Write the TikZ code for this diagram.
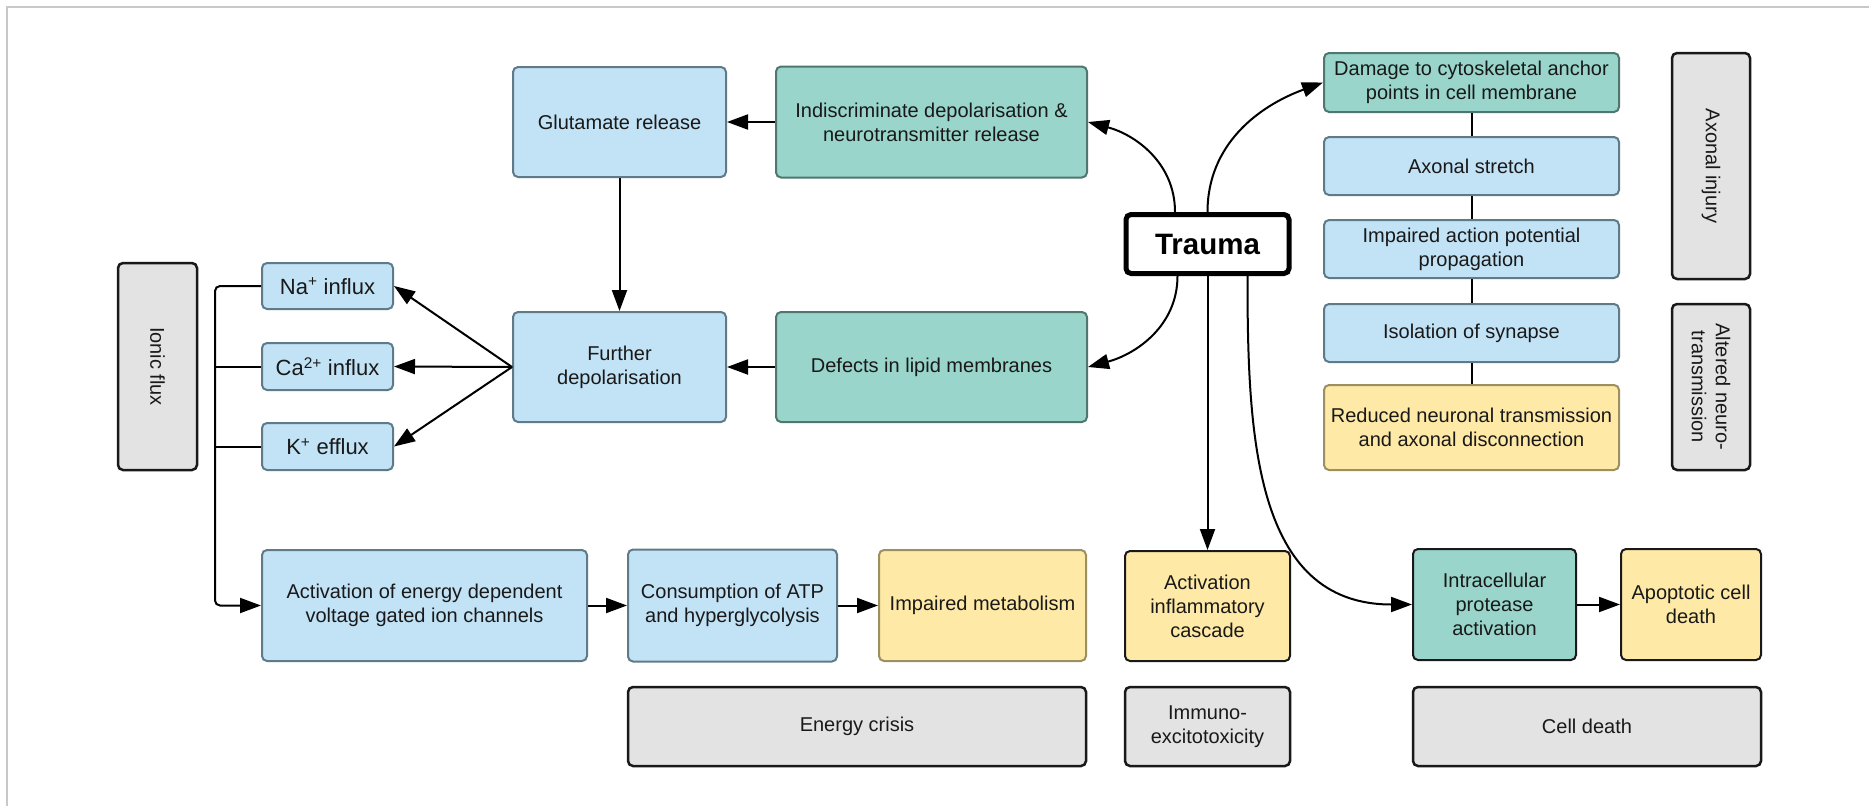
\documentclass[tikz,border=0pt]{standalone}
\usepackage{fontspec}
\setmainfont{Liberation Sans}
\usetikzlibrary{arrows.meta}
\definecolor{boxblue}{HTML}{C2E2F5}
\definecolor{lineblue}{HTML}{5F7A88}
\definecolor{boxteal}{HTML}{99D5CA}
\definecolor{lineteal}{HTML}{4F776F}
\definecolor{boxyellow}{HTML}{FEEAA6}
\definecolor{lineyellow}{HTML}{9C8F62}
\definecolor{boxgrey}{HTML}{E3E3E3}
\definecolor{framegrey}{HTML}{C8C8C8}
\def\boxtxt{\fontsize{20}{24}\selectfont}
\def\iontxt{\fontsize{22}{26}\selectfont}
\tikzset{
	box/.style={draw, rounded corners=5pt, line width=2pt, align=center, inner sep=0pt, text=black!90, font=\boxtxt},
	bluebox/.style={box, fill=boxblue, draw=lineblue},
	ionbox/.style={bluebox, font=\iontxt},
	tealbox/.style={box, fill=boxteal, draw=lineteal},
	yellowbox/.style={box, fill=boxyellow, draw=lineyellow},
	greybox/.style={box, fill=boxgrey, draw=black!90, line width=2.5pt},
	arr/.style={line width=2pt, -{Triangle[length=21pt,width=15pt]}},
	link/.style={line width=2pt}
}

\begin{document}
\begin{tikzpicture}[x=1pt,y=1pt]
		%%%%% START %%%%%
		\useasboundingbox (0,0) rectangle (1869,-806);
		\draw[framegrey, line width=1.5pt] (7,-806) -- (7,-7) -- (1869,-7);
		
		% ionic flux
		\node[greybox, rotate=-90, minimum width=207pt, minimum height=79pt] (ionic) at (157.5,-366.5) {Ionic flux};
		\node[ionbox, minimum width=131pt, minimum height=46pt] (na) at (327.5,-286) {Na\textsuperscript{+} influx};
		\node[ionbox, minimum width=131pt, minimum height=47pt] (ca) at (327.5,-366.5) {Ca\textsuperscript{2+} influx};
		\node[ionbox, minimum width=131pt, minimum height=47pt] (k) at (327.5,-446.5) {K\textsuperscript{+} efflux};
		
		\node[bluebox, minimum width=213pt, minimum height=110pt] (glut) at (619.5,-122) {Glutamate release};
		\node[bluebox, minimum width=213pt, minimum height=110pt] (further) at (619.5,-367) {Further\\depolarisation};
		\node[tealbox, minimum width=311pt, minimum height=111pt] (indisc) at (931.5,-122) {Indiscriminate depolarisation \&\\neurotransmitter release};
		\node[tealbox, minimum width=311pt, minimum height=110pt] (defects) at (931.5,-367) {Defects in lipid membranes};
		
		\node[draw, line width=5pt, rounded corners=5pt, fill=white, inner sep=0pt, minimum width=163pt, minimum height=59pt, font=\bfseries\fontsize{29.5}{34}\selectfont] (trauma) at (1207.5,-244) {Trauma};
		
		% axonal column
		\node[tealbox, minimum width=295pt, minimum height=59pt] (damage) at (1471.5,-82.5) {Damage to cytoskeletal anchor\\points in cell membrane};
		\node[bluebox, minimum width=295pt, minimum height=58pt] (stretch) at (1471.5,-166) {Axonal stretch};
		\node[bluebox, minimum width=295pt, minimum height=58pt] (actpot) at (1471.5,-249) {Impaired action potential\\propagation};
		\node[bluebox, minimum width=295pt, minimum height=58pt] (synapse) at (1471.5,-333) {Isolation of synapse};
		\node[yellowbox, minimum width=295pt, minimum height=85pt] (reduced) at (1471.5,-427.5) {Reduced neuronal transmission\\and axonal disconnection};
		\node[greybox, rotate=-90, minimum width=226pt, minimum height=78pt] (axinj) at (1711,-166) {Axonal injury};
		\node[greybox, rotate=-90, minimum width=166pt, minimum height=78pt] (altered) at (1711,-387) {Altered neuro-\\transmission};
		
		% bottom row
		\node[bluebox, minimum width=325pt, minimum height=111pt] (act) at (424.5,-605.5) {Activation of energy dependent\\voltage gated ion channels};
		\node[bluebox, minimum width=209pt, minimum height=112pt] (atp) at (732.5,-605.5) {Consumption of ATP\\and hyperglycolysis};
		\node[yellowbox, minimum width=207pt, minimum height=111pt] (metab) at (982.5,-605.5) {Impaired metabolism};
		\node[yellowbox, draw=black!90, minimum width=165pt, minimum height=110pt] (inflam) at (1207.5,-606) {Activation\\inflammatory\\cascade};
		\node[tealbox, draw=black!90, minimum width=163pt, minimum height=111pt] (protease) at (1494.5,-604.5) {Intracellular\\protease\\activation};
		\node[yellowbox, draw=black!90, minimum width=140pt, minimum height=111pt] (apopt) at (1691,-604.5) {Apoptotic cell\\death};
		
		\node[greybox, minimum width=458pt, minimum height=79pt] (energy) at (857,-726.5) {Energy crisis};
		\node[greybox, minimum width=165pt, minimum height=79pt] (immuno) at (1207.5,-726.5) {Immuno-\\excitotoxicity};
		\node[greybox, minimum width=348pt, minimum height=79pt] (celldeath) at (1587,-726.5) {Cell death};
		
		% connectors
		\draw[arr] (indisc.west) -- (glut.east);
		\draw[arr] (defects.west) -- (further.east);
		\draw[arr] (glut.south) -- (further.north);
		\draw[arr] (further.west) -- (na.east);
		\draw[arr] (further.west) -- (ca.east);
		\draw[arr] (further.west) -- (k.east);
		
		\coordinate (rail) at (215,-286);
		\draw[arr, rounded corners=5pt] (na.west) -- (rail) |- (act.west);
		\draw[link] (ca.west) -- (ca.west -| rail);
		\draw[link] (k.west) -- (k.west -| rail);
		\draw[arr] (act.east) -- (atp.west);
		\draw[arr] (atp.east) -- (metab.west);
		\draw[arr] (protease.east) -- (apopt.west);
		
		\draw[arr] ([xshift=-32.5pt]trauma.north) to[out=90, in=-15] (indisc.east);
		\draw[arr] (trauma.north) to[out=90, in=200] (damage.west);
		\draw[arr] ([xshift=-30pt]trauma.south) to[out=-90, in=15] (defects.east);
		\draw[arr] (trauma.south) -- (inflam.north);
		\draw[arr] ([xshift=40pt]trauma.south) to[out=-90, in=180, looseness=1.1] (protease.west);
		
		\draw[link] (damage) -- (stretch);
		\draw[link] (stretch) -- (actpot);
		\draw[link] (actpot) -- (synapse);
		\draw[link] (synapse) -- (reduced);
		%%%%% END %%%%%
\end{tikzpicture}
\end{document}
